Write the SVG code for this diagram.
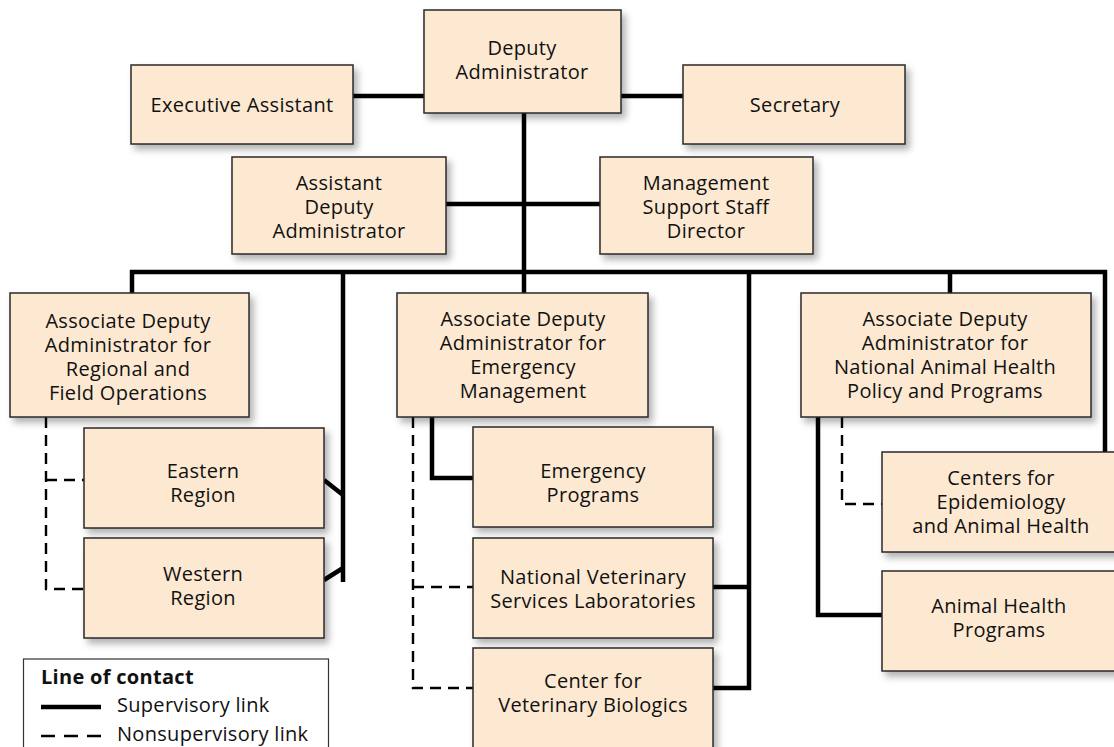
<svg xmlns="http://www.w3.org/2000/svg" width="1114" height="747" viewBox="0 0 1114 747">
<style>
.box{fill:#fde9d1;stroke:#2a2a2a;stroke-width:1.5;filter:url(#sh)}
text{font-family:"Open Sans","Noto Sans","Liberation Sans",sans-serif;font-size:20px;letter-spacing:0.3px;fill:#111;text-anchor:middle}
.sol{fill:none;stroke:#000;stroke-width:4.5;stroke-linejoin:miter}
.dash{fill:none;stroke:#000;stroke-width:2.4;stroke-dasharray:11 7}
.lg{text-anchor:start}
</style>
<defs>
<filter id="sh" x="-10%" y="-10%" width="130%" height="140%">
<feDropShadow dx="4" dy="5" stdDeviation="3.5" flood-color="#000" flood-opacity="0.3"/>
</filter>
</defs>
<g id="connectors">
<path class="sol" d="M353,96H424M621,96H683M524,113V293M446,204H600"/>
<path class="sol" d="M132,293V272H1105V452M950,272V293"/>
<path class="sol" d="M343,272V582M324,480L343,495M324,580L343,568"/>
<path class="sol" d="M749,272V688H713M713,587H749"/>
<path class="sol" d="M432,417V478H473"/>
<path class="sol" d="M818,417V615H882"/>
<path class="dash" d="M46,417V589H84M46,480H84"/>
<path class="dash" d="M413,417V688H473M413,587H473"/>
<path class="dash" d="M842,417V504H882"/>
</g>
<g id="deputy-administrator"><rect class="box" x="424" y="10" width="197" height="103"/><text x="522" y="55">Deputy</text><text x="522" y="79">Administrator</text></g>
<g id="executive-assistant"><rect class="box" x="131" y="65" width="222" height="79"/><text x="242" y="112">Executive Assistant</text></g>
<g id="secretary"><rect class="box" x="683" y="65" width="222" height="79"/><text x="795" y="112">Secretary</text></g>
<g id="assistant-deputy-administrator"><rect class="box" x="232" y="157" width="214" height="97"/><text x="339" y="190">Assistant</text><text x="339" y="214">Deputy</text><text x="339" y="238">Administrator</text></g>
<g id="management-support-staff-director"><rect class="box" x="600" y="157" width="213" height="97"/><text x="706" y="190">Management</text><text x="706" y="214">Support Staff</text><text x="706" y="238">Director</text></g>
<g id="ada-regional-field"><rect class="box" x="10" y="293" width="239" height="124"/><text x="128" y="328">Associate Deputy</text><text x="128" y="352">Administrator for</text><text x="128" y="376">Regional and</text><text x="128" y="400">Field Operations</text></g>
<g id="ada-emergency"><rect class="box" x="397" y="293" width="251" height="124"/><text x="523" y="326">Associate Deputy</text><text x="523" y="350">Administrator for</text><text x="523" y="374">Emergency</text><text x="523" y="398">Management</text></g>
<g id="ada-national-animal-health"><rect class="box" x="801" y="293" width="290" height="124"/><text x="945" y="326">Associate Deputy</text><text x="945" y="350">Administrator for</text><text x="945" y="374">National Animal Health</text><text x="945" y="398">Policy and Programs</text></g>
<g id="eastern-region"><rect class="box" x="84" y="428" width="240" height="100"/><text x="203" y="478">Eastern</text><text x="203" y="502">Region</text></g>
<g id="western-region"><rect class="box" x="84" y="538" width="240" height="100"/><text x="203" y="581">Western</text><text x="203" y="605">Region</text></g>
<g id="emergency-programs"><rect class="box" x="473" y="427" width="240" height="100"/><text x="593" y="478">Emergency</text><text x="593" y="502">Programs</text></g>
<g id="nvsl"><rect class="box" x="473" y="538" width="240" height="100"/><text x="593" y="584">National Veterinary</text><text x="593" y="608">Services Laboratories</text></g>
<g id="cvb"><rect class="box" x="473" y="648" width="240" height="110"/><text x="593" y="688">Center for</text><text x="593" y="712">Veterinary Biologics</text></g>
<g id="ceah"><rect class="box" x="882" y="452" width="240" height="100"/><text x="1001" y="485">Centers for</text><text x="1001" y="509">Epidemiology</text><text x="1001" y="533">and Animal Health</text></g>
<g id="animal-health-programs"><rect class="box" x="882" y="571" width="240" height="100"/><text x="999" y="613">Animal Health</text><text x="999" y="637">Programs</text></g>
<g id="legend">
<rect x="23.5" y="659" width="305" height="100" fill="#fff" stroke="#333" stroke-width="1.2"/>
<text class="lg" x="41" y="684" style="font-weight:bold">Line of contact</text>
<line x1="41" y1="707" x2="101" y2="707" stroke="#000" stroke-width="4.5"/>
<text class="lg" x="117" y="712">Supervisory link</text>
<line x1="41" y1="736" x2="101" y2="736" stroke="#000" stroke-width="2.4" stroke-dasharray="14 9"/>
<text class="lg" x="117" y="741">Nonsupervisory link</text>
</g>
</svg>
